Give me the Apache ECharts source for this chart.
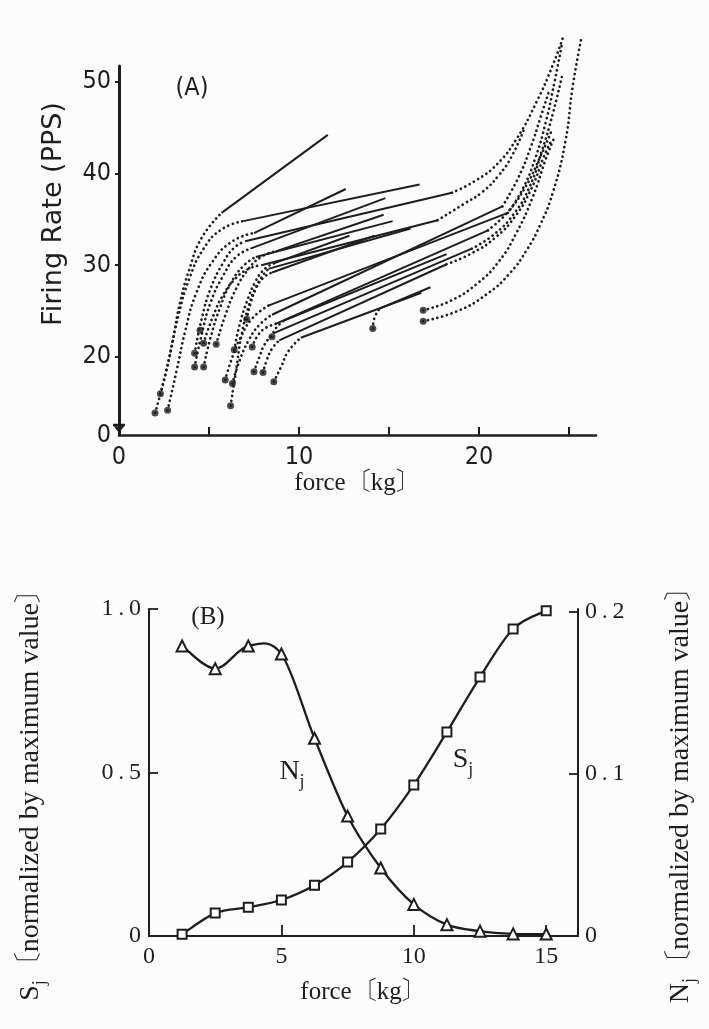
<!DOCTYPE html>
<html><head><meta charset="utf-8">
<script src="https://cdn.jsdelivr.net/npm/echarts@6/dist/echarts.min.js"></script>
<style>html,body{margin:0;padding:0;background:#fcfcfc}#c{width:709px;height:1029px}</style>
</head><body><div id="c"></div>
<script>
// ---------- Panel A data (force kg, firing rate pps) ----------
const recruitDots = [[2.0,13.9],[2.3,16.0],[2.7,14.2],[4.2,20.4],[4.2,18.9],[4.7,18.9],[4.7,21.5],[5.4,21.4],[4.5,22.9],
  [6.2,14.7],[6.4,20.8],[7.1,24.1],[5.9,17.5],[6.3,17.1],[7.4,21.1],[7.5,18.4],[8.0,18.3],[8.6,17.3],[8.5,22.2],
  [14.1,23.1],[16.9,25.1],[16.9,23.9]];
const risingCurves = [
  [[2.0,13.9],[2.6,18.2],[3.0,22.0],[3.4,26.0],[3.9,29.5],[4.6,33.0],[5.7,35.7]],
  [[2.3,16.0],[2.8,20.0],[3.3,24.5],[3.9,28.5],[4.7,31.8],[5.7,33.9],[6.9,34.8]],
  [[2.7,14.2],[3.2,18.5],[3.7,23.0],[4.3,27.0],[5.2,30.4],[6.3,32.6],[7.5,33.5]],
  [[4.2,20.4],[4.6,24.2],[5.1,27.5],[5.8,30.3],[6.4,31.9],[7.0,32.6]],
  [[4.2,18.9],[4.6,22.5],[5.1,26.0],[5.8,28.9],[6.5,30.9],[7.3,31.8]],
  [[4.7,18.9],[5.1,22.2],[5.6,25.3],[6.2,28.0],[6.9,29.9],[7.6,30.9]],
  [[4.7,21.5],[5.2,24.3],[5.8,26.8],[6.5,28.6],[7.2,29.6],[7.9,30.0]],
  [[5.4,21.4],[5.9,24.5],[6.5,27.4],[7.2,29.6],[7.9,30.9],[8.7,31.5]],
  [[6.2,14.7],[6.5,18.5],[6.8,22.3],[7.2,25.5],[7.7,28.0],[8.3,29.6]],
  [[6.4,20.8],[6.7,23.5],[7.1,26.0],[7.6,28.3],[8.1,29.6],[8.6,30.2]],
  [[7.1,24.1],[7.3,25.8],[7.6,27.4],[8.0,28.6],[8.5,29.2]],
  [[5.9,17.5],[6.3,20.0],[6.8,22.3],[7.4,24.2],[8.3,25.6]],
  [[6.3,17.1],[6.7,19.6],[7.2,21.8],[7.8,23.5],[8.5,24.6]],
  [[7.4,21.1],[7.7,22.3],[8.1,23.1],[8.7,23.6]],
  [[7.5,18.4],[7.8,20.0],[8.1,21.4],[8.6,22.6]],
  [[8.0,18.3],[8.2,19.6],[8.5,20.9],[8.9,21.8]],
  [[8.6,17.3],[9.0,18.9],[9.4,20.6],[10.1,22.1]],
  [[8.5,22.2],[8.7,23.1],[9.2,24.0]],
  [[14.1,23.1],[14.2,24.3],[14.5,25.3]]
];
const steadyLines = [
  [[5.7,35.7],[11.6,44.2]], [[6.9,34.8],[16.7,38.8]], [[7.5,33.5],[12.6,38.3]], [[7.0,32.6],[18.5,37.9]],
  [[7.3,31.8],[14.8,37.3]], [[7.6,30.9],[15.2,34.8]], [[7.9,30.0],[17.7,34.9]], [[8.7,31.5],[14.7,35.5]],
  [[8.3,29.6],[16.2,34.0]], [[8.6,30.2],[12.8,33.2]], [[8.5,29.2],[14.2,33.2]],
  [[8.3,25.6],[21.6,35.7]], [[8.5,24.6],[21.3,36.4]], [[8.7,23.6],[20.5,33.8]], [[8.6,22.6],[19.6,31.8]],
  [[8.9,21.8],[18.2,30.1]], [[10.1,22.1],[16.8,27.0]], [[9.2,24.0],[18.2,31.2]], [[14.5,25.3],[17.3,27.6]]
];
const highForceCurves = [
  [[18.5,37.9],[19.8,39.2],[21.0,41.0],[22.1,43.8],[23.2,47.8],[24.1,51.8],[24.7,55.0]],
  [[21.6,35.7],[22.4,38.2],[23.1,41.5],[23.7,45.5],[24.2,50.0],[24.6,54.0]],
  [[21.3,36.4],[22.2,39.6],[22.9,43.0],[23.4,46.0],[23.9,49.0]],
  [[20.5,33.8],[21.6,35.8],[22.6,38.6],[23.4,41.8],[24.0,44.5]],
  [[18.2,30.1],[19.6,31.3],[20.9,33.0],[22.0,35.3],[22.9,38.3],[23.6,41.8],[24.0,43.5]],
  [[16.9,25.1],[18.4,26.1],[19.9,28.0],[21.1,30.4],[22.1,33.6],[23.0,37.5],[23.7,41.5],[24.2,44.0]],
  [[16.9,23.9],[18.8,25.0],[20.4,26.8],[21.7,29.1],[22.7,31.8],[23.4,34.4],[24.1,37.9],[24.8,43.5],[25.2,49.4],[25.7,54.9]],
  [[17.7,34.9],[19.1,36.6],[20.2,38.0],[21.1,39.8],[21.8,41.8],[22.5,44.8]],
  [[19.6,31.8],[20.8,33.3],[21.9,35.5],[22.8,38.5],[23.5,42.5],[24.1,46.5],[24.6,50.5]]
];
const xLabelsA = [0, 10, 20];
const xTicksA = [5, 10, 15, 20, 25];
const yTicksA = [20, 30, 40, 50];

// ---------- Panel B data ----------
const forceB = [1.25, 2.5, 3.75, 5, 6.25, 7.5, 8.75, 10, 11.25, 12.5, 13.75, 15];
const sjValues = [0.005, 0.07, 0.088, 0.11, 0.155, 0.226, 0.327, 0.462, 0.624, 0.792, 0.939, 0.995];
const njValues = [0.179, 0.165, 0.179, 0.174, 0.122, 0.074, 0.042, 0.0195, 0.007, 0.003, 0.0013, 0.0012];
const xLabelsB = [0, 5, 10, 15];
const yLabelsBLeft = [0, 0.5, 1.0];
const yLabelsBRight = [0, 0.1, 0.2];

// ---------- styling ----------
const ink = '#1e1e1e';
const SERIF = '"Liberation Serif", "Noto Serif CJK JP", "Noto Sans CJK JP", serif';
const NARROW = '"Liberation Sans Narrow", "DejaVu Sans Condensed", Roboto, sans-serif';
const SANS = '"DejaVu Sans", "Open Sans", sans-serif';
const mctx = document.createElement('canvas').getContext('2d');
function tw(text, size, family, weight) { mctx.font = (weight || 'normal') + ' ' + size + 'px ' + family; return mctx.measureText(text).width; }
function labelGroup(parts, cx, cy, rotation) {
  const widths = parts.map(p => tw(p.text, p.size, p.family, p.weight));
  const total = widths.reduce((a, b) => a + b, 0);
  let x = -total / 2;
  const children = parts.map((p, i) => {
    const el = { type: 'text', x: x, y: p.dy || 0, silent: true,
      style: { text: p.text, fontSize: p.size, fontFamily: p.family, fontWeight: p.weight || 'normal', fill: ink,
        align: 'left', textAlign: 'left', verticalAlign: 'middle', textVerticalAlign: 'middle' } };
    x += widths[i];
    return el;
  });
  return { type: 'group', x: cx, y: cy, rotation: rotation || 0, children: children, silent: true };
}
// Catmull-Rom curve through pixel points (points come from the axes via api.coord)
function catmullPath(pts) {
  let d = 'M' + pts[0][0] + ',' + pts[0][1];
  for (let i = 0; i < pts.length - 1; i++) {
    const p0 = pts[i - 1] || pts[i], p1 = pts[i], p2 = pts[i + 1], p3 = pts[i + 2] || pts[i + 1];
    const t = 1 / 6;
    const c1 = [p1[0] + (p2[0] - p0[0]) * t, p1[1] + (p2[1] - p0[1]) * t];
    const c2 = [p2[0] - (p3[0] - p1[0]) * t, p2[1] - (p3[1] - p1[1]) * t];
    d += ' C' + c1[0] + ',' + c1[1] + ' ' + c2[0] + ',' + c2[1] + ' ' + p2[0] + ',' + p2[1];
  }
  return d;
}
function curveSeries(xs, ys, yAxisIndex) {
  return { type: 'custom', xAxisIndex: 1, yAxisIndex: yAxisIndex, data: [[xs[0], ys[0]]], clip: false, silent: true, z: 2,
    renderItem: (params, api) => {
      const pts = xs.map((x, i) => api.coord([x, ys[i]]));
      return { type: 'path', shape: { pathData: catmullPath(pts) }, style: { stroke: ink, lineWidth: 2.3, fill: 'none' } };
    } };
}
const dotLine = { color: ink, width: 2.7, type: [0.1, 4.8], cap: 'round' };

const series = [];
risingCurves.forEach(c => series.push({ type: 'line', xAxisIndex: 0, yAxisIndex: 0, data: c, smooth: 0.5,
  symbol: 'none', lineStyle: dotLine, clip: false, silent: true, z: 2 }));
highForceCurves.forEach(c => series.push({ type: 'line', xAxisIndex: 0, yAxisIndex: 0, data: c, smooth: 0.5,
  symbol: 'none', lineStyle: dotLine, clip: false, silent: true, z: 2 }));
steadyLines.forEach(l => series.push({ type: 'line', xAxisIndex: 0, yAxisIndex: 0, data: l,
  symbol: 'none', lineStyle: { color: ink, width: 2 }, clip: false, silent: true, z: 3 }));
series.push({ type: 'scatter', xAxisIndex: 0, yAxisIndex: 0, data: recruitDots, symbolSize: 7,
  itemStyle: { color: ink }, silent: true, z: 4 });
series.push(curveSeries(forceB, sjValues, 1));
series.push(curveSeries(forceB, njValues, 2));
series.push({ type: 'line', xAxisIndex: 1, yAxisIndex: 1, data: forceB.map((x, i) => [x, sjValues[i]]),
  symbol: 'emptyRect', symbolSize: 9, showAllSymbol: true, lineStyle: { width: 0, opacity: 0 },
  itemStyle: { color: ink, borderWidth: 1.2 }, silent: true, z: 5 });
series.push({ type: 'line', xAxisIndex: 1, yAxisIndex: 2, data: forceB.map((x, i) => [x, njValues[i]]),
  symbol: 'emptyTriangle', symbolSize: 11, showAllSymbol: true, lineStyle: { width: 0, opacity: 0 },
  itemStyle: { color: ink, borderWidth: 1.2 }, silent: true, z: 5 });

const chart = echarts.init(document.getElementById('c'), null, { renderer: 'canvas' });
chart.setOption({
  backgroundColor: '#fcfcfc',
  animation: false,
  grid: [
    { left: 119, top: 66, width: 477, height: 369 },
    { left: 149, top: 609, width: 429, height: 327 }
  ],
  xAxis: [
    { gridIndex: 0, type: 'value', min: 0, max: 26.5, splitLine: { show: false },
      axisLine: { lineStyle: { color: ink, width: 2.5 } },
      axisTick: { inside: true, length: 8, customValues: xTicksA, lineStyle: { color: ink, width: 2 } },
      axisLabel: { customValues: xLabelsA, color: ink, fontFamily: NARROW, fontSize: 25, margin: 10 },
      name: 'force〔kg〕', nameLocation: 'middle', nameGap: 34,
      nameTextStyle: { color: ink, fontFamily: SERIF, fontSize: 25 } },
    { gridIndex: 1, type: 'value', min: 0, max: 16.2, splitLine: { show: false },
      axisLine: { lineStyle: { color: ink, width: 2 } },
      axisTick: { inside: true, length: 11, customValues: [5, 10, 15], lineStyle: { color: ink, width: 1.8 } },
      axisLabel: { customValues: xLabelsB, color: ink, fontFamily: SERIF, fontSize: 24, margin: 9 },
      name: 'force〔kg〕', nameLocation: 'middle', nameGap: 44,
      nameTextStyle: { color: ink, fontFamily: SERIF, fontSize: 25 } }
  ],
  yAxis: [
    { gridIndex: 0, type: 'value', min: 11.5, max: 51.7, splitLine: { show: false },
      axisLine: { show: true, symbol: ['arrow', 'none'], symbolSize: [9, 8], symbolOffset: [2, 0], lineStyle: { color: ink, width: 3 } },
      axisTick: { show: true, length: 4, customValues: yTicksA, lineStyle: { color: ink, width: 2 } },
      axisLabel: { customValues: [11.5].concat(yTicksA), formatter: v => (v < 15 ? '0' : String(v)),
        color: ink, fontFamily: NARROW, fontSize: 25, margin: 8 } },
    { gridIndex: 1, type: 'value', position: 'left', min: 0, max: 1.0, splitLine: { show: false },
      axisLine: { show: true, lineStyle: { color: ink, width: 2 } },
      axisTick: { show: true, inside: true, length: 9, customValues: [0.5, 1.0], lineStyle: { color: ink, width: 1.8 } },
      axisLabel: { customValues: yLabelsBLeft, formatter: v => (v === 0 ? '0' : v.toFixed(1).replace('.', '\u2009.\u2009')),
        color: ink, fontFamily: SERIF, fontSize: 24, margin: 8 } },
    { gridIndex: 1, type: 'value', position: 'right', min: 0, max: 0.2018, splitLine: { show: false },
      axisLine: { show: true, lineStyle: { color: ink, width: 2 } },
      axisTick: { show: true, inside: true, length: 9, customValues: [0.1, 0.2], lineStyle: { color: ink, width: 1.8 } },
      axisLabel: { customValues: yLabelsBRight, formatter: v => (v === 0 ? '0' : v.toFixed(1).replace('.', '\u2009.\u2009')),
        color: ink, fontFamily: SERIF, fontSize: 24, margin: 7 } }
  ],
  graphic: [
    { type: 'line', shape: { x1: 113, y1: 425, x2: 125, y2: 425 }, style: { stroke: ink, lineWidth: 2.5 }, silent: true },
    labelGroup([{ text: '(A)', size: 25, family: NARROW }], 192, 88),
    labelGroup([{ text: '(B)', size: 25, family: SERIF }], 208, 617),
    labelGroup([{ text: 'Firing Rate (PPS)', size: 27, family: SANS }], 54, 214, Math.PI / 2),
    labelGroup([{ text: 'S', size: 28, family: SERIF }, { text: 'j', size: 18, family: SERIF, dy: 9 },
      { text: '〔normalized by maximum value〕', size: 28, family: SERIF }], 31, 788, Math.PI / 2),
    labelGroup([{ text: 'N', size: 28, family: SERIF }, { text: 'j', size: 18, family: SERIF, dy: 9 },
      { text: '〔normalized by maximum value〕', size: 28, family: SERIF }], 681, 788, Math.PI / 2),
    labelGroup([{ text: 'N', size: 28, family: SERIF }, { text: 'j', size: 18, family: SERIF, dy: 10 }], 292, 772),
    labelGroup([{ text: 'S', size: 28, family: SERIF }, { text: 'j', size: 18, family: SERIF, dy: 10 }], 463, 760)
  ],
  series: series
});
</script></body></html>
